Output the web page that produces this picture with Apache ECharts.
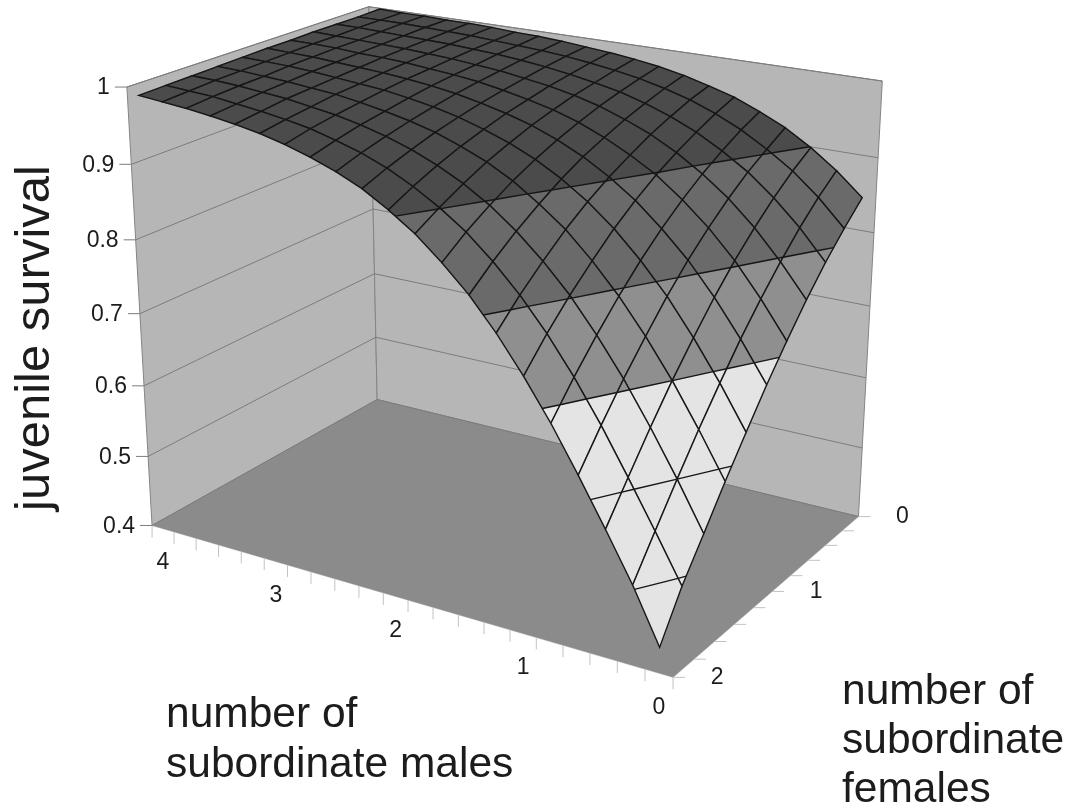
<!DOCTYPE html>
<html>
<head>
<meta charset="utf-8">
<title>juvenile survival</title>
<script src="https://cdn.jsdelivr.net/npm/echarts@6/dist/echarts.min.js"></script>
<style>
  html, body { margin: 0; padding: 0; background: #fff; }
  #chart { width: 1069px; height: 811px; }
</style>
</head>
<body>
<div id="chart"></div>
<script>
// Axis values. Males run 0..4, females 0..2, both in steps of 0.2.
const males = [0, 0.2, 0.4, 0.6, 0.8, 1, 1.2, 1.4, 1.6, 1.8, 2, 2.2, 2.4, 2.6, 2.8, 3, 3.2, 3.4, 3.6, 3.8, 4];
const females = [0, 0.2, 0.4, 0.6, 0.8, 1, 1.2, 1.4, 1.6, 1.8, 2];
const survivalTicks = [0.4, 0.5, 0.6, 0.7, 0.8, 0.9, 1];
const maleLabels = [0, 1, 2, 3, 4];
const femaleLabels = [0, 1, 2];

// Survival, one list per number of females, in order of males.
const survivalF00 = [.844, .874, .899, .920, .936, .950, .960, .969, .976, .981, .985, .988, .991, .993, .994, .996, .997, .997, .998, .998, .999];
const survivalF02 = [.817, .852, .881, .904, .924, .940, .953, .963, .971, .977, .982, .986, .989, .991, .993, .995, .996, .997, .998, .998, .998];
const survivalF04 = [.787, .826, .859, .887, .909, .928, .943, .955, .965, .972, .978, .983, .987, .990, .992, .994, .995, .996, .997, .998, .998];
const survivalF06 = [.753, .796, .834, .866, .892, .914, .932, .946, .958, .967, .974, .979, .984, .987, .990, .992, .994, .995, .996, .997, .998];
const survivalF08 = [.715, .763, .806, .842, .872, .898, .918, .935, .949, .960, .968, .975, .981, .985, .988, .991, .993, .994, .996, .997, .997];
const survivalF10 = [.675, .727, .774, .815, .849, .879, .903, .923, .939, .952, .962, .970, .977, .982, .986, .989, .991, .993, .995, .996, .997];
const survivalF12 = [.631, .687, .738, .784, .823, .857, .885, .908, .927, .942, .954, .964, .972, .978, .983, .986, .989, .992, .994, .995, .996];
const survivalF14 = [.586, .645, .700, .749, .793, .831, .864, .890, .913, .931, .945, .957, .966, .973, .979, .984, .987, .990, .992, .994, .995];
const survivalF16 = [.538, .600, .658, .712, .760, .803, .839, .870, .896, .917, .934, .948, .959, .968, .975, .980, .985, .988, .991, .993, .994];
const survivalF18 = [.491, .553, .613, .671, .724, .771, .812, .847, .877, .901, .921, .938, .951, .961, .970, .976, .981, .985, .989, .991, .993];
const survivalF20 = [.434, .505, .567, .627, .684, .735, .781, .821, .854, .883, .906, .926, .941, .953, .963, .971, .977, .982, .986, .989, .992];
const survival = [survivalF00, survivalF02, survivalF04, survivalF06, survivalF08, survivalF10, survivalF12, survivalF14, survivalF16, survivalF18, survivalF20];

// Surface bands: lower limit, upper limit, colour.
const bands = [
  [0.4, 0.7, '#e4e4e4'],
  [0.7, 0.8, '#8f8f8f'],
  [0.8, 0.9, '#6a6a6a'],
  [0.9, 1.0, '#4b4b4b']
];
const bandLines = [0.5, 0.6, 0.7, 0.8, 0.9];

// Box corners and wall ticks as seen in the picture: [u, v, t, pixel x, pixel y].
// u = 0 at the zero male end, v = 0 at the zero female end, t = 0 on the floor.
const boxAnchors = [
  [1, 1, 0, 152, 526],
  [1, 0, 0, 377, 399],
  [0, 0, 0, 859, 517],
  [0, 1, 0, 673, 677],
  [1, 1, 1, 127, 87],
  [1, 0, 1, 368, 7],
  [0, 0, 1, 883, 81],
  [1, 1, 1 / 6 * 5, 132, 164],
  [1, 1, 4 / 6, 135, 240],
  [0, 0, 1 / 6, 862, 448],
  [0, 0, 3 / 6, 869, 306],
  [1, 0, 3 / 6, 374, 209]
];

/**
 * Solve a square linear system by gaussian elimination.
 */
function solve(A, b) {
  const n = b.length;
  for (let c = 0; c < n; c++) {
    let p = c;
    for (let r = c + 1; r < n; r++) {
      if (Math.abs(A[r][c]) > Math.abs(A[p][c])) p = r;
    }
    [A[c], A[p]] = [A[p], A[c]];
    [b[c], b[p]] = [b[p], b[c]];
    for (let r = c + 1; r < n; r++) {
      const f = A[r][c] / A[c][c];
      for (let k = c; k < n; k++) A[r][k] -= f * A[c][k];
      b[r] -= f * b[c];
    }
  }
  const x = new Array(n).fill(0);
  for (let r = n - 1; r >= 0; r--) {
    let s = b[r];
    for (let k = r + 1; k < n; k++) s -= A[r][k] * x[k];
    x[r] = s / A[r][r];
  }
  return x;
}

/**
 * Fit the perspective camera to the anchors, least squares.
 */
function fitCamera(anchors) {
  const rows = [];
  const rhs = [];
  anchors.forEach(function (a) {
    const x = a[3] / 1000;
    const y = a[4] / 1000;
    rows.push([a[0], a[1], a[2], 1, 0, 0, 0, 0, -x * a[0], -x * a[1], -x * a[2]]);
    rhs.push(x);
    rows.push([0, 0, 0, 0, a[0], a[1], a[2], 1, -y * a[0], -y * a[1], -y * a[2]]);
    rhs.push(y);
  });
  const AtA = [];
  const Atb = [];
  for (let i = 0; i < 11; i++) {
    AtA.push(new Array(11).fill(0));
    Atb.push(0);
    rows.forEach(function (row, r) {
      for (let j = 0; j < 11; j++) AtA[i][j] += row[i] * row[j];
      Atb[i] += row[i] * rhs[r];
    });
  }
  return solve(AtA, Atb);
}

const cam = fitCamera(boxAnchors);

function project(u, v, t) {
  const w = cam[8] * u + cam[9] * v + cam[10] * t + 1;
  return [
    1000 * (cam[0] * u + cam[1] * v + cam[2] * t + cam[3]) / w,
    1000 * (cam[4] * u + cam[5] * v + cam[6] * t + cam[7]) / w
  ];
}

const zMin = survivalTicks[0];
const zMax = survivalTicks[survivalTicks.length - 1];

function toT(z) {
  return (z - zMin) / (zMax - zMin);
}

// Males sit between the ticks of their axis, females on the ticks.
function maleU(i) {
  return (i + 0.5) / males.length;
}

function femaleV(j) {
  return j / (females.length - 1);
}

function projectCorner(c) {
  return project(c[0], c[1], toT(c[2]));
}

/**
 * Keep the part of a polygon on one side of a survival level.
 */
function clipLevel(poly, level, keepAbove) {
  const out = [];
  poly.forEach(function (p, k) {
    const q = poly[(k + 1) % poly.length];
    const pIn = keepAbove ? p[2] >= level : p[2] <= level;
    const qIn = keepAbove ? q[2] >= level : q[2] <= level;
    if (pIn) out.push(p);
    if (pIn !== qIn) {
      const s = (level - p[2]) / (q[2] - p[2]);
      out.push([p[0] + s * (q[0] - p[0]), p[1] + s * (q[1] - p[1]), level]);
    }
  });
  return out;
}

function levelCrossings(poly, level) {
  const out = [];
  poly.forEach(function (p, k) {
    const q = poly[(k + 1) % poly.length];
    if ((p[2] < level) !== (q[2] < level)) {
      const s = (level - p[2]) / (q[2] - p[2]);
      out.push([p[0] + s * (q[0] - p[0]), p[1] + s * (q[1] - p[1]), level]);
    }
  });
  return out;
}

const lineStyle = { stroke: '#161616', lineWidth: 1.4, fill: null };

function renderCell(params, api) {
  const i = api.value(0);
  const j = api.value(1);
  const corner = function (a, b) {
    return [maleU(a), femaleV(b), survival[b][a]];
  };
  const quad = [corner(i, j), corner(i + 1, j), corner(i + 1, j + 1), corner(i, j + 1)];
  const children = [];

  bands.forEach(function (band) {
    const part = clipLevel(clipLevel(quad, band[0], true), band[1], false);
    if (part.length > 2) {
      children.push({
        type: 'polygon',
        shape: { points: part.map(projectCorner) },
        style: { fill: band[2], stroke: band[2], lineWidth: 0.5 }
      });
    }
  });
  children.push({
    type: 'polygon',
    shape: { points: quad.map(projectCorner) },
    style: lineStyle
  });
  bandLines.forEach(function (level) {
    const cross = levelCrossings(quad, level);
    if (cross.length === 2) {
      children.push({
        type: 'polyline',
        shape: { points: cross.map(projectCorner) },
        style: lineStyle
      });
    }
  });
  return { type: 'group', children: children };
}

function renderBox() {
  const children = [];
  const wall = { fill: '#b6b6b6', stroke: '#858585', lineWidth: 1 };
  const grid = { stroke: '#7c7c7c', lineWidth: 1, fill: null };
  const tick = { stroke: '#c2c2c2', lineWidth: 1, fill: null };
  const poly = function (pts, style) {
    children.push({ type: 'polygon', shape: { points: pts.map(function (p) { return project(p[0], p[1], p[2]); }) }, style: style });
  };
  const line = function (a, b, style) {
    children.push({ type: 'line', shape: { x1: a[0], y1: a[1], x2: b[0], y2: b[1] }, style: style });
  };
  const label = function (text, x, y, align) {
    children.push({
      type: 'text',
      style: { text: String(text), x: x, y: y, align: align, verticalAlign: 'middle', fill: '#1c1c1c', font: '23px "Liberation Sans", Arial, sans-serif' }
    });
  };

  poly([[1, 1, 0], [1, 0, 0], [1, 0, 1], [1, 1, 1]], wall);
  poly([[1, 0, 0], [0, 0, 0], [0, 0, 1], [1, 0, 1]], wall);
  poly([[1, 1, 0], [1, 0, 0], [0, 0, 0], [0, 1, 0]], { fill: '#8b8b8b', stroke: '#8b8b8b', lineWidth: 0.5 });

  survivalTicks.forEach(function (z) {
    const t = toT(z);
    const left = project(1, 1, t);
    line(left, project(1, 0, t), grid);
    line(project(1, 0, t), project(0, 0, t), grid);
    line([left[0] - 12, left[1]], left, grid);
    label(z, left[0] - 17, left[1] + 1, 'right');
  });

  for (let k = 0; k <= males.length; k++) {
    const p = project(k / males.length, 1, 0);
    line(p, [p[0], p[1] + 12], tick);
  }
  maleLabels.forEach(function (m) {
    const p = project(maleU(males.indexOf(m)), 1, 0);
    label(m, p[0], p[1] + 34, 'center');
  });
  females.forEach(function (f, j) {
    const p = project(0, femaleV(j), 0);
    line(p, [p[0] + 12, p[1]], tick);
  });
  femaleLabels.forEach(function (f) {
    const p = project(0, femaleV(females.indexOf(f)), 0);
    label(f, p[0] + 44, p[1], 'center');
  });
  return { type: 'group', children: children };
}

// Far cells first so nearer ones paint over them.
const cells = [];
for (let i = males.length - 2; i >= 0; i--) {
  for (let j = 0; j < females.length - 1; j++) {
    cells.push([i, j]);
  }
}

const chart = echarts.init(document.getElementById('chart'), null, { renderer: 'canvas' });

const titleFont = '42.5px "Liberation Sans", Arial, sans-serif';

chart.setOption({
  backgroundColor: '#fff',
  animation: false,
  graphic: [
    { type: 'text', x: 35, y: 338, rotation: Math.PI / 2, style: { text: 'juvenile survival', align: 'center', verticalAlign: 'middle', fill: '#1c1c1c', font: '49px "Liberation Sans", Arial, sans-serif' } },
    { type: 'text', x: 166, y: 715, style: { text: 'number of', verticalAlign: 'middle', fill: '#1c1c1c', font: titleFont } },
    { type: 'text', x: 166, y: 765, style: { text: 'subordinate males', verticalAlign: 'middle', fill: '#1c1c1c', font: titleFont } },
    { type: 'text', x: 842, y: 692, style: { text: 'number of', verticalAlign: 'middle', fill: '#1c1c1c', font: titleFont } },
    { type: 'text', x: 842, y: 741, style: { text: 'subordinate', verticalAlign: 'middle', fill: '#1c1c1c', font: titleFont } },
    { type: 'text', x: 842, y: 790, style: { text: 'females', verticalAlign: 'middle', fill: '#1c1c1c', font: titleFont } }
  ],
  series: [
    { type: 'custom', coordinateSystem: 'none', silent: true, z: 1, data: [[0]], renderItem: renderBox },
    { type: 'custom', coordinateSystem: 'none', silent: true, z: 2, progressive: 0, data: cells, renderItem: renderCell }
  ]
});
</script>
</body>
</html>
